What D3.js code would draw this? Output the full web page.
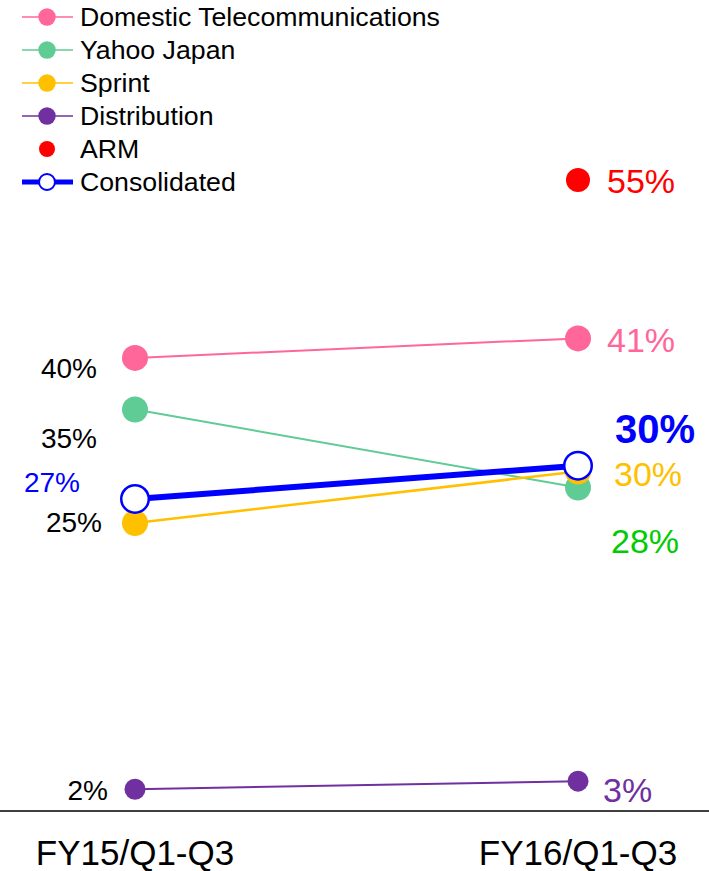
<!DOCTYPE html>
<html>
<head>
    <script src="https://d3js.org/d3.v7.min.js"></script>
    <style>
        body { margin: 0; background: #fff; }
        svg { display: block; font-family: "Liberation Sans", Arial, sans-serif; }
    </style>
</head>
<body>
    <svg width="709" height="871"></svg>
    <script>
        // data
        var periods = ["FY15/Q1-Q3", "FY16/Q1-Q3"];
        var seriesNames = ["Domestic Telecommunications", "Yahoo Japan", "Sprint", "Distribution", "ARM", "Consolidated"];
        var domestic = [39.5, 41.2];
        var yahoo = [35.0, 28.2];
        var sprint = [25.1, 29.6];
        var distribution = [1.9, 2.6];
        var arm = [null, 55.0];
        var consolidated = [27.2, 30.1];

        var svg = d3.select("svg"),
            width = +svg.attr("width"),
            height = +svg.attr("height");

        var x = d3.scalePoint().domain(periods).range([135, 578]);
        var y = d3.scaleLinear().domain([0, 70]).range([811, 8]);

        // look of each series (label nudges are left / right of the point)
        var styles = [
            {values: domestic, color: "#ff6699", lw: 2, r: 13, labelColor: ["#000", "#ff6699"], left: [-38, 20], right: [29, 14]},
            {values: yahoo, color: "#5fcb95", lw: 2, r: 13, labelColor: ["#000", "#00cc00"], left: [-38, 38], right: [33, 65]},
            {values: sprint, color: "#ffc000", lw: 2.5, r: 13, labelColor: ["#000", "#ffc000"], left: [-33, 9], right: [36, 15]},
            {values: distribution, color: "#7030a0", lw: 2, r: 10.5, labelColor: ["#000", "#7030a0"], left: [-27, 11], right: [25, 21]},
            {values: arm, color: "#ff0000", lw: 0, r: 12, labelColor: ["#000", "#ff0000"], left: [-30, 10], right: [29, 13]},
            {values: consolidated, color: "#0000ff", lw: 6, r: 15, open: true, bold: true, labelColor: ["#0000ff", "#0000ff"], left: [-55, -7], right: [37, -23]}
        ];

        // baseline
        svg.append("line")
            .attr("x1", 0).attr("x2", width)
            .attr("y1", y(0)).attr("y2", y(0))
            .attr("stroke", "#000").attr("stroke-width", 1.5);

        // period labels
        svg.selectAll(".period")
            .data(periods)
            .enter().append("text")
            .attr("x", function(d) { return x(d); })
            .attr("y", 865)
            .attr("text-anchor", "middle")
            .style("font-size", "35px")
            .text(function(d) { return d; });

        var line = d3.line()
            .defined(function(d) { return d != null; })
            .x(function(d, i) { return x(periods[i]); })
            .y(function(d) { return y(d); });

        styles.forEach(function(s) {
            var g = svg.append("g");
            if (s.lw > 0) {
                g.append("path")
                    .attr("d", line(s.values))
                    .attr("fill", "none")
                    .attr("stroke", s.color)
                    .attr("stroke-width", s.lw);
            }
            s.values.forEach(function(v, i) {
                if (v == null) return;
                g.append("circle")
                    .attr("cx", x(periods[i]))
                    .attr("cy", y(v))
                    .attr("r", s.open ? s.r - 1.25 : s.r)
                    .attr("fill", s.open ? "#fff" : s.color)
                    .attr("stroke", s.open ? s.color : "none")
                    .attr("stroke-width", 2.5);
                var off = i == 0 ? s.left : s.right;
                var big = i == 1;
                g.append("text")
                    .attr("x", x(periods[i]) + off[0])
                    .attr("y", y(v) + off[1])
                    .attr("text-anchor", i == 0 ? "end" : "start")
                    .attr("fill", s.labelColor[i])
                    .style("font-size", big ? (s.bold ? "40px" : "34px") : "28px")
                    .style("font-weight", big && s.bold ? "bold" : "normal")
                    .text(Math.round(v) + "%");
            });
        });

        // legend
        var legend = svg.append("g");
        styles.forEach(function(s, i) {
            var cy = 17 + i * 33;
            if (s.lw > 0) {
                legend.append("line")
                    .attr("x1", 22).attr("x2", 73)
                    .attr("y1", cy).attr("y2", cy)
                    .attr("stroke", s.color)
                    .attr("stroke-width", s.open ? 5 : 1.5);
            }
            legend.append("circle")
                .attr("cx", 47).attr("cy", cy)
                .attr("r", s.open ? 8 : (s.lw > 0 ? 8.7 : 8))
                .attr("fill", s.open ? "#fff" : s.color)
                .attr("stroke", s.open ? s.color : "none")
                .attr("stroke-width", 2);
            legend.append("text")
                .attr("x", 80).attr("y", cy + 9)
                .style("font-size", "26.7px")
                .text(seriesNames[i]);
        });
    </script>
</body>
</html>
